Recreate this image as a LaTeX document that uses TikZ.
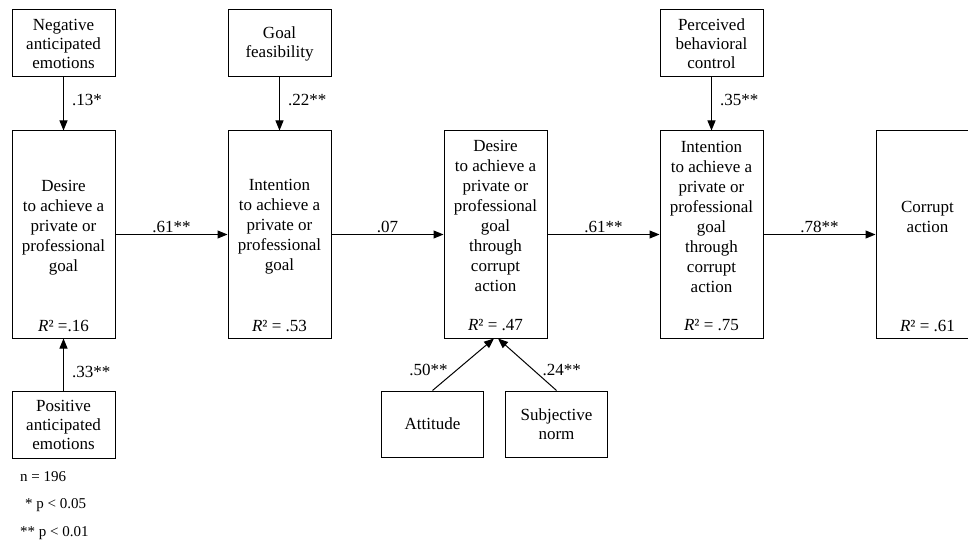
\documentclass[tikz,border=0pt]{standalone}
\usepackage{fontspec}
\setmainfont{Liberation Serif}
\usetikzlibrary{arrows.meta, positioning}

\begin{document}
\begin{tikzpicture}[
  x=1pt, y=-1pt,
  node distance=112pt,
  box/.style={draw, line width=1pt, align=center, inner sep=0pt,
              font=\fontsize{17}{19}\selectfont},
  mainbox/.style={box, minimum width=103pt, minimum height=207pt},
  sidebox/.style={box, minimum width=103pt, minimum height=67pt},
  lowbox/.style={box, minimum width=102pt, minimum height=66pt},
  boxtext/.style={align=center, inner sep=0pt, font=\fontsize{17}{20}\selectfont},
  rsq/.style={inner sep=0pt, font=\fontsize{17}{20}\selectfont},
  coef/.style={inner sep=1pt, font=\fontsize{17}{20}\selectfont},
  arr/.style={line width=1pt, -{Triangle[length=10pt,width=8pt]}},
  note/.style={align=left, inner sep=0pt, font=\fontsize{15}{27.5}\selectfont},
]
  \clip (0,0) rectangle (968,545);

  % main chain of the model
  \node[mainbox] (desire) at (63.5,234.5) {};
  \node[mainbox, right=of desire] (intent) {};
  \node[mainbox, right=of intent] (cdesire) {};
  \node[mainbox, right=of cdesire] (cintent) {};
  \node[mainbox, right=of cintent] (action) {};

  \node[boxtext] (desiretxt) at ([yshift=6.5pt]desire.center)
    {Desire\\to achieve a\\private or\\professional\\goal};
  \node[boxtext] (intenttxt) at ([yshift=7.5pt]intent.center)
    {Intention\\to achieve a\\private or\\professional\\goal};
  \node[boxtext] (cdesiretxt) at ([yshift=18.5pt]cdesire.center)
    {Desire\\to achieve a\\private or\\professional\\goal\\through\\corrupt\\action};
  \node[boxtext] (cintenttxt) at ([yshift=17.5pt]cintent.center)
    {Intention\\to achieve a\\private or\\professional\\goal\\through\\corrupt\\action};
  \node[boxtext] (actiontxt) at ([yshift=17.5pt]action.center)
    {Corrupt\\action};

  % explained variance
  \node[rsq] (desirersq) at ([yshift=13pt]desire.south) {\textit{R}² =.16};
  \node[rsq] (intentrsq) at ([yshift=13pt]intent.south) {\textit{R}² = .53};
  \node[rsq] (cdesirersq) at ([yshift=13pt]cdesire.south) {\textit{R}² = .47};
  \node[rsq] (cintentrsq) at ([yshift=13pt]cintent.south) {\textit{R}² = .75};
  \node[rsq] (actionrsq) at ([yshift=13pt]action.south) {\textit{R}² = .61};

  % predictors
  \node[sidebox, above=53pt of desire] (negemo) {Negative\\anticipated\\emotions};
  \node[sidebox, above=53pt of intent] (feasib) {Goal\\feasibility};
  \node[sidebox, above=53pt of cintent] (pbc) {Perceived\\behavioral\\control};
  \node[sidebox, below=52pt of desire] (posemo) {Positive\\anticipated\\emotions};
  \node[lowbox, below=52pt of cdesire, xshift=-63pt] (attitude) {Attitude};
  \node[lowbox, below=52pt of cdesire, xshift=61pt] (subnorm) {Subjective\\norm};

  % paths
  \draw[arr] (desire) -- node[coef, above] {.61**} (intent);
  \draw[arr] (intent) -- node[coef, above] {.07} (cdesire);
  \draw[arr] (cdesire) -- node[coef, above] {.61**} (cintent);
  \draw[arr] (cintent) -- node[coef, above] {.78**} (action);

  \draw[arr] (negemo) -- node[coef, right=7pt, pos=0.42] {.13*} (desire);
  \draw[arr] (feasib) -- node[coef, right=7pt, pos=0.42] {.22**} (intent);
  \draw[arr] (pbc) -- node[coef, right=7pt, pos=0.42] {.35**} (cintent);
  \draw[arr] (posemo) -- node[coef, right=7pt, pos=0.36] {.33**} (desire);

  \draw[arr] (attitude.north) -- node[coef, anchor=east, pos=0.4, xshift=-8pt] {.50**}
    ([xshift=-1.5pt]cdesire.south);
  \draw[arr] (subnorm.north) -- node[coef, anchor=west, pos=0.4, xshift=8pt] {.24**}
    ([xshift=2.5pt]cdesire.south);

  % sample size and significance
  \node[note, anchor=north west] (legend) at (20,471)
    {n = 196\\\hspace*{5pt}* p < 0.05\\** p < 0.01};
\end{tikzpicture}
\end{document}
